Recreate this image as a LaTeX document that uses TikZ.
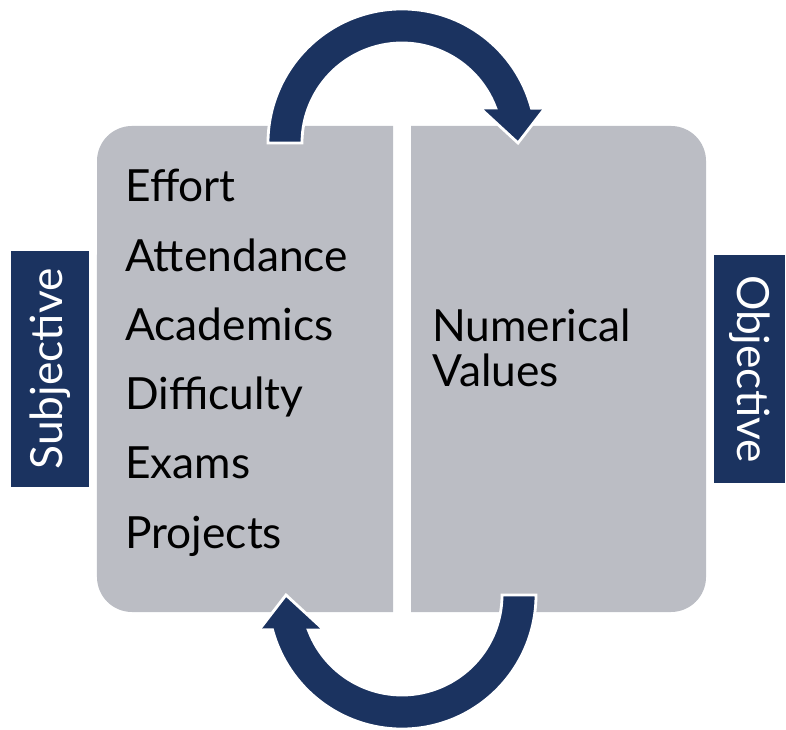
\documentclass[tikz,border=0pt]{standalone}
\usepackage{fontspec}
\setmainfont{Lato}
\usepackage{tikz}

\definecolor{navy}{RGB}{27,51,96}
\definecolor{boxgray}{RGB}{187,189,196}

\tikzset{
	itemtext/.style={font=\fontsize{31.5}{32}\selectfont, inner sep=0pt, anchor=base west},
	sidelabel/.style={fill=navy, text=white, font=\fontsize{31.5}{32}\selectfont, inner sep=0pt},
	pics/turnarrow/.style={code={
		\fill[navy, draw=white, line width=2pt] (-134,0)
		arc[start angle=180, end angle=15, radius=3.35cm]
		-- (143,35) -- (116,0) -- (78,35) -- (93.7,35)
		arc[start angle=20.5, end angle=180, radius=2.5cm]
		-- cycle;
	}}
}

\begin{document}
\begin{tikzpicture}[x=0.025cm, y=0.025cm]
	\useasboundingbox (0,0) rectangle (786,729);

	% the two halves
	\fill[boxgray] (393,117) -- (132,117)
	arc[start angle=270, end angle=180, radius=0.875cm]
	-- (97,568)
	arc[start angle=180, end angle=90, radius=0.875cm]
	-- (393,603) -- cycle;
	\fill[boxgray] (411,117) -- (671,117)
	arc[start angle=270, end angle=360, radius=0.875cm]
	-- (706,568)
	arc[start angle=0, end angle=90, radius=0.875cm]
	-- (411,603) -- cycle;

	% turning arrows
	\pic at (402,586) {turnarrow};
	\pic[rotate=180] at (402,134) {turnarrow};

	% left list
	\foreach \name [count=\i] in {Effort,Attendance,Academics,Difficulty,Exams,Projects}
		\node[itemtext] (item\i) at (125,527-69.2*\i+69.2) {\name};

	% right text (base anchor sits on the last line)
	\node[itemtext, align=left] (numvalues) at (432,342) {Numerical\\Values};

	% side labels
	\node[sidelabel, rotate=90, minimum width=5.9cm, minimum height=1.95cm] (subjective) at (50,360) {Subjective};
	\node[sidelabel, rotate=-90, minimum width=5.7cm, minimum height=1.775cm] (objective) at (749.5,360) {Objective};
\end{tikzpicture}
\end{document}
